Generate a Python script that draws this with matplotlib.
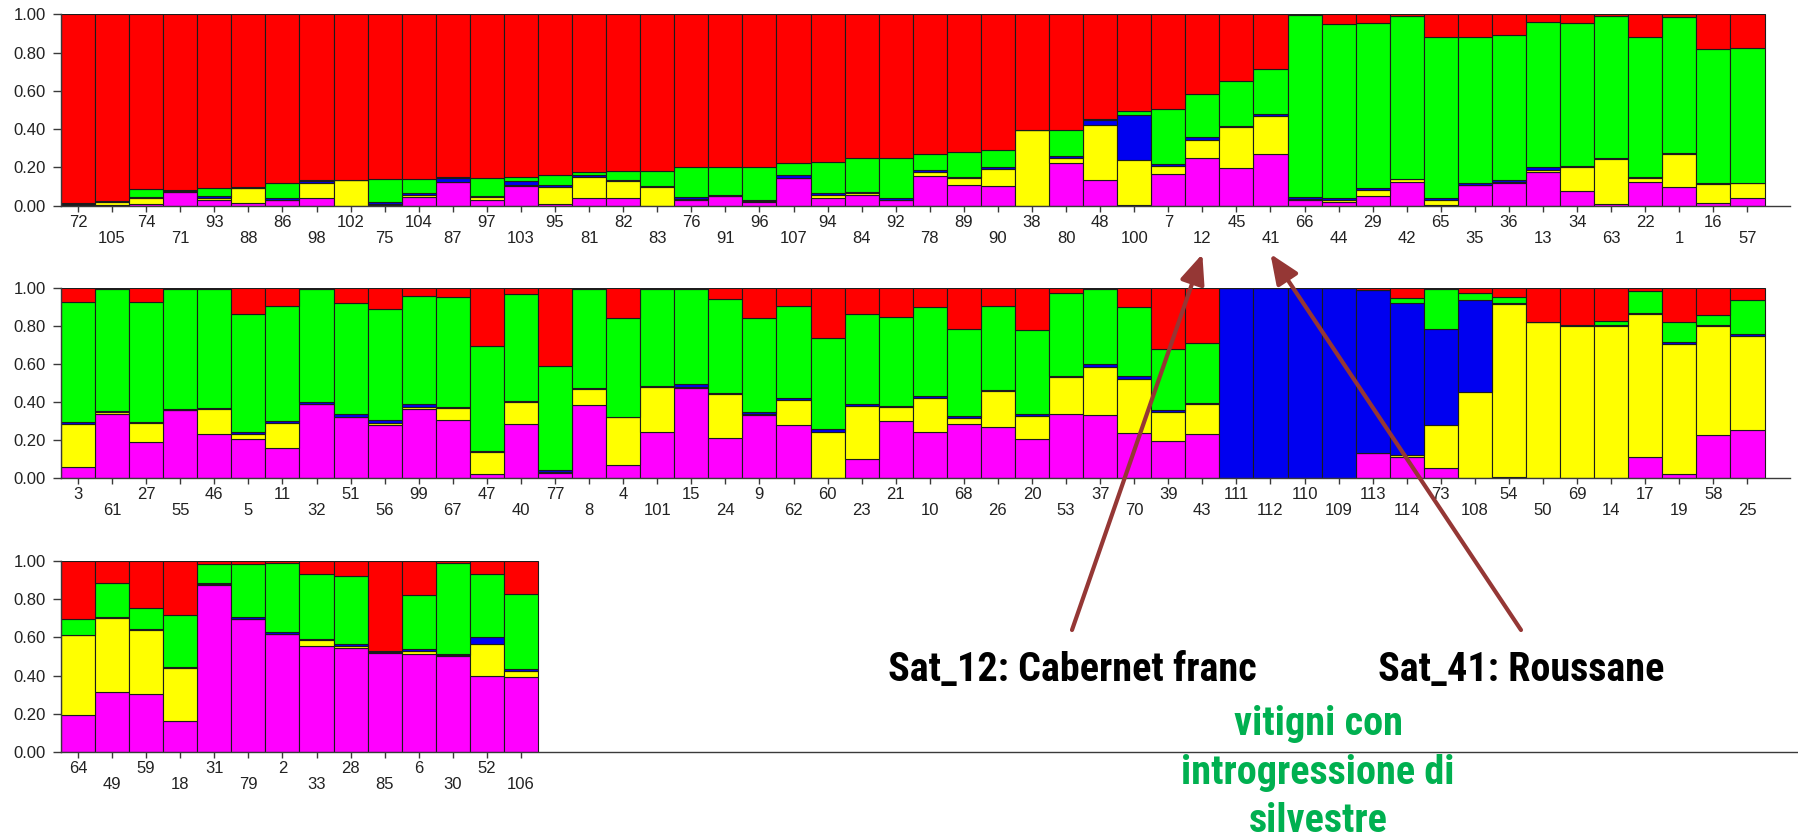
import matplotlib
matplotlib.use("Agg")
import matplotlib.pyplot as plt
from matplotlib import font_manager

# ---------------------------------------------------------------------------
# Admixture proportions (K = 5) per individual, three rows of the bar plot.
# Components stacked bottom -> top: magenta, yellow, blue, green, red.
# ---------------------------------------------------------------------------
row1_labels = ["72", "105", "74", "71", "93", "88", "86", "98", "102", "75",
               "104", "87", "97", "103", "95", "81", "82", "83", "76", "91",
               "96", "107", "94", "84", "92", "78", "89", "90", "38", "80",
               "48", "100", "7", "12", "45", "41", "66", "44", "29", "42",
               "65", "35", "36", "13", "34", "63", "22", "1", "16", "57"]
row1_magenta = [.005, .005, .010, .070, .030, .012, .030, .040, .000, .005,
                .047, .125, .028, .105, .008, .040, .040, .000, .030, .050,
                .020, .143, .038, .055, .030, .155, .110, .105, .000, .225,
                .134, .005, .165, .247, .199, .270, .030, .020, .050, .125,
                .005, .108, .120, .178, .077, .010, .125, .100, .012, .042]
row1_yellow = [.003, .012, .030, .000, .012, .080, .002, .080, .132, .002,
               .010, .000, .017, .003, .092, .110, .090, .100, .003, .002,
               .002, .002, .018, .010, .002, .020, .035, .085, .393, .023,
               .290, .235, .040, .095, .210, .200, .003, .010, .030, .012,
               .025, .002, .003, .010, .125, .235, .020, .170, .100, .075]
row1_blue = [.005, .005, .005, .008, .008, .003, .008, .010, .002, .013,
             .008, .020, .008, .020, .008, .010, .005, .003, .010, .006,
             .008, .015, .010, .008, .010, .010, .005, .010, .001, .010,
             .025, .235, .012, .015, .010, .008, .010, .008, .010, .005,
             .010, .008, .012, .015, .005, .005, .005, .003, .005, .003]
row1_green = [.002, .005, .040, .003, .043, .002, .080, .005, .001, .122,
              .077, .007, .094, .022, .055, .018, .048, .080, .161, .146,
              .174, .061, .160, .174, .205, .085, .132, .090, .001, .138,
              .004, .020, .286, .225, .233, .235, .952, .912, .867, .851,
              .843, .765, .757, .759, .750, .743, .733, .711, .702, .706]
row1_red = [.985, .973, .915, .919, .907, .903, .880, .865, .865, .858,
            .858, .848, .853, .850, .837, .822, .817, .817, .796, .796,
            .796, .779, .774, .753, .753, .730, .718, .710, .605, .604,
            .547, .505, .497, .418, .348, .287, .005, .050, .043, .007,
            .117, .117, .108, .038, .043, .007, .117, .016, .181, .174]

row2_labels = ["3", "61", "27", "55", "46", "5", "11", "32", "51", "56",
               "99", "67", "47", "40", "77", "8", "4", "101", "15", "24",
               "9", "62", "60", "23", "21", "10", "68", "26", "20", "53",
               "37", "70", "39", "43", "111", "112", "110", "109", "113", "114",
               "73", "108", "54", "50", "69", "14", "17", "19", "58", "25"]
row2_magenta = [.058, .335, .190, .357, .233, .205, .157, .390, .320, .280,
                .363, .308, .020, .285, .030, .385, .070, .244, .475, .209,
                .332, .279, .002, .100, .302, .244, .285, .270, .204, .337,
                .332, .236, .197, .230, .000, .000, .000, .000, .131, .113,
                .052, .002, .005, .001, .000, .000, .113, .020, .227, .253]
row2_yellow = [.225, .010, .100, .001, .130, .027, .133, .002, .003, .010,
               .010, .062, .120, .117, .003, .085, .250, .233, .003, .235,
               .003, .130, .242, .280, .073, .176, .030, .190, .122, .195,
               .250, .284, .153, .157, .000, .000, .000, .000, .002, .010,
               .228, .452, .908, .817, .800, .800, .747, .683, .573, .494]
row2_blue = [.010, .010, .005, .003, .003, .010, .010, .008, .015, .015,
             .017, .005, .003, .003, .010, .002, .003, .005, .015, .003,
             .012, .010, .012, .010, .003, .010, .010, .003, .010, .003,
             .017, .015, .006, .006, .997, .997, .997, .995, .855, .798,
             .500, .480, .008, .002, .006, .005, .005, .012, .005, .008]
row2_green = [.632, .638, .630, .632, .627, .620, .605, .593, .582, .580,
              .565, .575, .552, .560, .547, .521, .518, .510, .500, .495,
              .491, .485, .480, .470, .468, .469, .460, .441, .441, .437,
              .391, .364, .324, .314, .000, .000, .000, .000, .000, .025,
              .212, .036, .030, .000, .000, .019, .115, .105, .050, .180]
row2_red = [.075, .007, .075, .007, .007, .138, .095, .007, .080, .115,
            .045, .050, .305, .035, .410, .007, .159, .008, .007, .058,
            .162, .096, .264, .140, .154, .101, .215, .096, .223, .028,
            .010, .101, .320, .293, .003, .003, .003, .005, .012, .054,
            .008, .030, .049, .180, .194, .176, .020, .180, .145, .065]

row3_labels = ["64", "49", "59", "18", "31", "79", "2", "33", "28", "85",
               "6", "30", "52", "106"]
row3_magenta = [.193, .312, .303, .164, .875, .695, .618, .555, .547, .520,
                .513, .505, .399, .392]
row3_yellow = [.418, .390, .335, .275, .002, .002, .002, .030, .010, .002,
               .018, .002, .166, .030]
row3_blue = [.003, .006, .008, .006, .008, .008, .008, .005, .010, .006,
             .010, .008, .035, .010]
row3_green = [.081, .175, .107, .273, .098, .278, .360, .344, .355, .002,
              .279, .473, .334, .394]
row3_red = [.305, .117, .247, .282, .017, .017, .012, .066, .078, .470,
            .180, .012, .066, .174]

cluster_colors = ["#ff00ff", "#ffff00", "#0000f0", "#00ff00", "#ff0000"]
y_ticks = [0.0, 0.2, 0.4, 0.6, 0.8, 1.0]

# ---------------------------------------------------------------------------
W, H = 1798, 840
DPI = 100
UNIT = 34.07          # width of one bar in pixels
X0 = 61               # left edge of every panel (y axis)

installed = {f.name for f in font_manager.fontManager.ttflist}
tick_font = "Liberation Sans" if "Liberation Sans" in installed else "DejaVu Sans"
narrow_font = tick_font
for cand in ["Liberation Sans Narrow", "Roboto Condensed", "Open Sans Condensed"]:
    if cand in installed:
        narrow_font = cand
        break

fig = plt.figure(figsize=(W / DPI, H / DPI), dpi=DPI)
fig.patch.set_facecolor("white")


def panel(x_right, y_top, y_bottom):
    rect = [X0 / W, 1 - y_bottom / H, (x_right - X0) / W, (y_bottom - y_top) / H]
    ax = fig.add_axes(rect)
    ax.set_xlim(-0.5, -0.5 + (x_right - X0) / UNIT)
    ax.set_ylim(0, 1)
    return ax


def draw_row(ax, labels, comps):
    n = len(labels)
    xs = list(range(n))
    bottom = [0.0] * n
    for vals, col in zip(comps, cluster_colors):
        ax.bar(xs, vals, width=1.0, bottom=bottom, color=col,
               edgecolor="#1c1c1c", linewidth=0.8, zorder=2)
        bottom = [b + v for b, v in zip(bottom, vals)]
    for s in ("top", "right"):
        ax.spines[s].set_visible(False)
    for s in ("left", "bottom"):
        ax.spines[s].set_color("#3a3a3a")
        ax.spines[s].set_linewidth(1.0)
    ax.set_yticks(y_ticks)
    ax.set_yticklabels([f"{t:.2f}" for t in y_ticks],
                       fontfamily=tick_font, fontsize=12, color="#222222")
    # staggered sample labels: even positions on the upper line,
    # odd positions on the lower line (minor ticks with a larger pad)
    even = xs[0::2]
    odd = xs[1::2]
    ax.set_xticks(even)
    ax.set_xticklabels(labels[0::2], fontfamily=tick_font, fontsize=12,
                       color="#222222")
    ax.set_xticks(odd, minor=True)
    ax.set_xticklabels(labels[1::2], minor=True, fontfamily=tick_font,
                       fontsize=12, color="#222222")
    ax.tick_params(axis="y", length=6, width=1, color="#3a3a3a", pad=5)
    ax.tick_params(axis="x", which="major", length=4.5, width=1,
                   color="#3a3a3a", pad=2)
    ax.tick_params(axis="x", which="minor", length=4.5, width=1,
                   color="#3a3a3a", pad=13.5)
    ax.set_facecolor("white")


ax1 = panel(1790, 14.3, 205.7)
draw_row(ax1, row1_labels,
         [row1_magenta, row1_yellow, row1_blue, row1_green, row1_red])
ax2 = panel(1790, 287.5, 478.3)
draw_row(ax2, row2_labels,
         [row2_magenta, row2_yellow, row2_blue, row2_green, row2_red])
ax3 = panel(1797, 561.0, 752.0)
draw_row(ax3, row3_labels,
         [row3_magenta, row3_yellow, row3_blue, row3_green, row3_red])

# ---------------------------------------------------------------------------
# Overlay in pixel coordinates for the callouts
ov = fig.add_axes([0, 0, 1, 1], zorder=10)
ov.set_xlim(0, W)
ov.set_ylim(H, 0)
ov.axis("off")
ov.patch.set_alpha(0)


def label_x_px(name):
    i = row1_labels.index(name)
    return ax1.transData.transform((i, 0))[0] * W / fig.bbox.width


arrow_col = "#953735"
callouts = [("12", 1072, "Sat_12: Cabernet franc"),
            ("41", 1521, "Sat_41: Roussane")]
for name, tail_x, text in callouts:
    tip_x = label_x_px(name)
    ov.annotate("", xy=(tip_x, 254), xytext=(tail_x, 630),
                arrowprops=dict(arrowstyle="-|>,head_length=0.9,head_width=0.38",
                                color=arrow_col, lw=3.0, mutation_scale=20,
                                shrinkA=0, shrinkB=0))
    ov.text(tail_x, 681, text, ha="center", va="baseline",
            fontfamily=narrow_font, fontweight="bold", fontsize=29,
            color="black")

green_lines = ["vitigni con", "introgressione di", "silvestre"]
green_baselines = [735, 784, 832]
for line, yb in zip(green_lines, green_baselines):
    ov.text(1318, yb, line, ha="center", va="baseline",
            fontfamily=narrow_font, fontweight="bold", fontsize=29,
            color="#00b050")

fig.savefig("out.png", dpi=DPI, facecolor="white")
